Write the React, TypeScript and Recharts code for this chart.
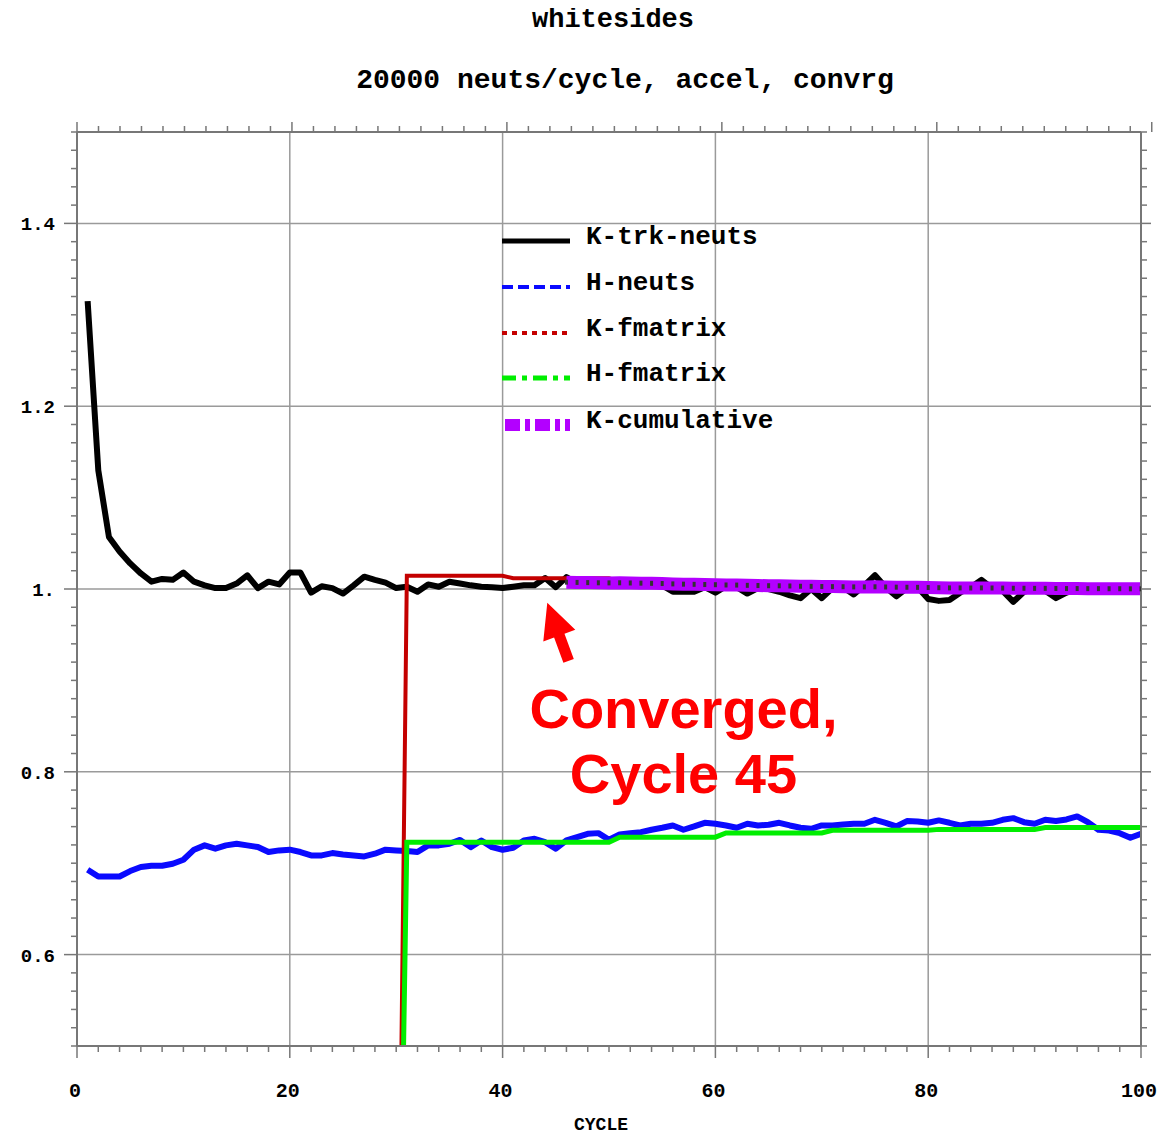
import React from 'react';
import { LineChart, Line, XAxis, YAxis, ReferenceLine, ReferenceDot, Legend } from 'recharts';

// ---------- data ----------
const cycles = Array.from({ length: 100 }, (_, i) => i + 1);

const kTrkNeuts = [
  1.315, 1.130, 1.057, 1.041, 1.028, 1.017, 1.008, 1.011, 1.010, 1.018,
  1.008, 1.004, 1.001, 1.001, 1.006, 1.015, 1.001, 1.008, 1.005, 1.018,
  1.018, 0.996, 1.003, 1.001, 0.995, 1.004, 1.0135, 1.010, 1.007, 1.001,
  1.0025, 0.997, 1.005, 1.0025, 1.008, 1.006, 1.004, 1.0025, 1.002, 1.001,
  1.0025, 1.004, 1.004, 1.012, 1.002, 1.013, 1.006, 1.007, 1.005, 1.006,
  1.008, 1.006, 1.007, 1.005, 1.004, 0.997, 0.997, 0.997, 1.002, 0.996,
  1.003, 1.002, 0.995, 1.001, 1.000, 0.997, 0.993, 0.990, 1.000, 0.990,
  1.001, 1.002, 0.994, 1.004, 1.015, 1.002, 0.992, 1.001, 1.002, 0.989,
  0.987, 0.988, 0.996, 1.002, 1.010, 1.001, 0.998, 0.986, 0.997, 1.000,
  0.998, 0.990, 0.996, 1.001, 1.000, 1.000, 0.999, 1.001, 1.000, 0.999,
];

const hNeuts = [
  0.6928, 0.6855, 0.6855, 0.6855, 0.6914, 0.6958, 0.6972, 0.6972, 0.6994, 0.7038,
  0.7148, 0.7195, 0.7159, 0.7195, 0.7213, 0.7195, 0.7177, 0.7122, 0.7140, 0.7148,
  0.7122, 0.7085, 0.7085, 0.7111, 0.7096, 0.7085, 0.7074, 0.7104, 0.7148, 0.7140,
  0.7133, 0.7122, 0.7195, 0.7195, 0.7213, 0.7255, 0.7176, 0.7249, 0.7176, 0.7147,
  0.7169, 0.7249, 0.7267, 0.7230, 0.7158, 0.7249, 0.7285, 0.7322, 0.7329, 0.7256,
  0.7314, 0.7329, 0.7340, 0.7366, 0.7388, 0.7413, 0.7366, 0.7402, 0.7442, 0.7431,
  0.7413, 0.7388, 0.7431, 0.7413, 0.7420, 0.7442, 0.7413, 0.7388, 0.7377, 0.7413,
  0.7413, 0.7424, 0.7431, 0.7431, 0.7475, 0.7442, 0.7402, 0.7461, 0.7457, 0.7442,
  0.7468, 0.7442, 0.7413, 0.7431, 0.7431, 0.7442, 0.7475, 0.7493, 0.7449, 0.7431,
  0.7475, 0.7461, 0.7479, 0.7512, 0.7449, 0.7366, 0.7358, 0.7329, 0.7278, 0.7322,
];

// fmatrix series start at cycle 30
const FM_START = 30;
const kFmatrix = [
  0,
  1.0145, 1.0145, 1.0145, 1.0145, 1.0145, 1.0145, 1.0145, 1.0145, 1.0145, 1.0145,
  1.0117, 1.0117, 1.0117, 1.0117, 1.0117, 1.0117, 1.0117, 1.0117, 1.0117, 1.0117,
  1.008, 1.008, 1.008, 1.008, 1.008, 1.008, 1.008, 1.008, 1.008, 1.008,
  1.006, 1.006, 1.006, 1.006, 1.006, 1.006, 1.006, 1.006, 1.006, 1.006,
  1.005, 1.005, 1.005, 1.005, 1.005, 1.005, 1.005, 1.005, 1.005, 1.005,
  1.003, 1.003, 1.003, 1.003, 1.003, 1.003, 1.003, 1.003, 1.003, 1.003,
  1.002, 1.002, 1.002, 1.002, 1.002, 1.002, 1.002, 1.002, 1.002, 1.002,
];
const hFmatrix = [
  0,
  0.723, 0.723, 0.723, 0.723, 0.723, 0.723, 0.723, 0.723, 0.723, 0.723,
  0.723, 0.723, 0.723, 0.723, 0.723, 0.723, 0.723, 0.723, 0.723, 0.723,
  0.7285, 0.7285, 0.7285, 0.7285, 0.7285, 0.7285, 0.7285, 0.7285, 0.7285, 0.7285,
  0.733, 0.733, 0.733, 0.733, 0.733, 0.733, 0.733, 0.733, 0.733, 0.733,
  0.736, 0.736, 0.736, 0.736, 0.736, 0.736, 0.736, 0.736, 0.736, 0.736,
  0.737, 0.737, 0.737, 0.737, 0.737, 0.737, 0.737, 0.737, 0.737, 0.737,
  0.739, 0.739, 0.739, 0.739, 0.739, 0.739, 0.739, 0.739, 0.739, 0.739,
];

// cumulative starts at cycle 46
const CUM_START = 46;
const kCumulative = [
  1.0075, 1.0072, 1.0070, 1.0068, 1.0067, 1.0068, 1.0066, 1.0064, 1.0062, 1.0060,
  1.0056, 1.0053, 1.0051, 1.0049, 1.0047, 1.0044, 1.0043, 1.0040, 1.0038, 1.0036,
  1.0035, 1.0033, 1.0030, 1.0029, 1.0027, 1.0026, 1.0025, 1.0023, 1.0023, 1.0024,
  1.0022, 1.0020, 1.0019, 1.0018, 1.0016, 1.0014, 1.0012, 1.0012, 1.0011, 1.0012,
  1.0011, 1.0010, 1.0008, 1.0008, 1.0007, 1.0007, 1.0006, 1.0005, 1.0005, 1.0004,
  1.0004, 1.0003, 1.0003, 1.0002, 1.0002,
];

const seriesNames = ['K-trk-neuts', 'H-neuts', 'K-fmatrix', 'H-fmatrix', 'K-cumulative'];

const xMajorTicks = [0, 20, 40, 60, 80, 100];
const xMajorLabels = ['0', '20', '40', '60', '80', '100'];
const yMajorTicks = [0.6, 0.8, 1.0, 1.2, 1.4];
const yMajorLabels = ['0.6', '0.8', '1.', '1.2', '1.4'];

const titleText = 'whitesides';
const subtitleText = '20000 neuts/cycle, accel, convrg';
const xAxisTitle = 'CYCLE';

const annotationLines = ['Converged,', 'Cycle 45'];
const annotationAt = { cycle: 57, value: 0.8477 };
const arrowTipAt = { cycle: 44.2, value: 0.985 };

// ---------- styles ----------
const MONO = "'Liberation Mono', 'DejaVu Sans Mono', monospace";
const SANS = "'Liberation Sans', Arial, sans-serif";
const AXIS_COLOR = '#777';
const GRID_COLOR = '#9a9a9a';
const seriesColors = ['#000000', '#0a0aff', '#c40000', '#00ee00', '#b300ff'];
const seriesWidths = [6, 6, 4, 5, 13];
const legendStroke = [
  { w: 5, dash: undefined },
  { w: 4, dash: '11 5' },
  { w: 4, dash: '5 5' },
  { w: 5, dash: '14 6 5 6' },
  { w: 12, dash: '15 5 5 5' },
];

// generated tick grids (minor every 2 cycles / 0.02)
const xTicks = Array.from({ length: 51 }, (_, i) => i * 2);
const yTicks = Array.from({ length: 51 }, (_, i) => +(0.5 + i * 0.02).toFixed(2));

const isXMajor = (v: number) => xMajorTicks.indexOf(v) >= 0;
const yMajorIndex = (v: number) => yMajorTicks.findIndex((m) => Math.abs(m - v) < 1e-6);

const BottomTick = (p: any) => {
  const v = p.payload.value;
  const major = isXMajor(v);
  return (
    <g>
      <line x1={p.x} y1={p.y} x2={p.x} y2={p.y + (major ? 12 : 6)} stroke={AXIS_COLOR} strokeWidth={1.5} />
      {major && (
        <text x={p.x - 2} y={p.y + 51} textAnchor="middle" fontFamily={MONO} fontWeight="bold" fontSize={20} fill="#000">
          {xMajorLabels[xMajorTicks.indexOf(v)]}
        </text>
      )}
    </g>
  );
};
const TopTick = (p: any) => {
  const major = isXMajor(p.payload.value);
  return <line x1={p.x} y1={p.y} x2={p.x} y2={p.y - (major ? 10 : 6)} stroke={AXIS_COLOR} strokeWidth={1.5} />;
};
const LeftTick = (p: any) => {
  const idx = yMajorIndex(p.payload.value);
  const major = idx >= 0;
  return (
    <g>
      <line x1={p.x - (major ? 13 : 6)} y1={p.y} x2={p.x} y2={p.y} stroke={AXIS_COLOR} strokeWidth={1.5} />
      {major && (
        <text x={p.x - 22} y={p.y + 7} textAnchor="end" fontFamily={MONO} fontWeight="bold" fontSize={19} fill="#000">
          {yMajorLabels[idx]}
        </text>
      )}
    </g>
  );
};
const RightTick = (p: any) => {
  const major = yMajorIndex(p.payload.value) >= 0;
  return <line x1={p.x} y1={p.y} x2={p.x + (major ? 10 : 6)} y2={p.y} stroke={AXIS_COLOR} strokeWidth={1.5} />;
};

const LegendBox = () => {
  const rowY = [21, 67, 113, 158, 205];
  return (
    <svg width={300} height={225} style={{ overflow: 'visible' }}>
      {seriesNames.map((name, i) => (
        <g key={name}>
          <line
            x1={i === 4 ? 3 : 0}
            y1={rowY[i]}
            x2={68}
            y2={rowY[i]}
            stroke={seriesColors[i]}
            strokeWidth={legendStroke[i].w}
            strokeDasharray={legendStroke[i].dash}
          />
          <text x={84} y={rowY[i] + 3} fontFamily={MONO} fontWeight="bold" fontSize={26} fill="#000">
            {name}
          </text>
        </g>
      ))}
    </svg>
  );
};

const ArrowShape = (p: any) => {
  if (p.cx == null || p.cy == null) return <g />;
  const pts = [
    [0, 0], [28, 27], [17.2, 31], [26.5, 56.3], [16.1, 60.1], [6.8, 34.8], [-4, 38.7],
  ];
  return <polygon points={pts.map(([dx, dy]) => `${p.cx + dx},${p.cy + dy}`).join(' ')} fill="#ff0000" />;
};

const AnnotationShape = (p: any) => {
  if (p.cx == null || p.cy == null) return <g />;
  return (
    <g>
      {annotationLines.map((t, i) => (
        <text key={t} x={p.cx} y={p.cy + i * 65} textAnchor="middle" fontFamily={SANS} fontWeight="bold" fontSize={56} fill="#ff0000">
          {t}
        </text>
      ))}
    </g>
  );
};

const CumDot = (p: any) => {
  if (p.cx == null || p.cy == null || p.value == null) return <g key={`cd${p.index}`} />;
  return <rect key={`cd${p.index}`} x={p.cx - 1.5} y={p.cy - 2.5} width={3} height={5} fill="#333" />;
};

export default function App() {
  const data = cycles.map((c, i) => ({
    cycle: c,
    ktrk: kTrkNeuts[i],
    hneuts: hNeuts[i],
    kfm: c >= FM_START ? kFmatrix[c - FM_START] : null,
    hfm: c >= FM_START ? hFmatrix[c - FM_START] : null,
    kcum: c >= CUM_START ? kCumulative[c - CUM_START] : null,
  }));

  const W = 1162;
  const H = 1128;

  return (
    <div style={{ position: 'relative', width: W, height: H }}>
      <LineChart width={W} height={H} data={data} margin={{ top: 114, right: 19, bottom: 30, left: 9 }} style={{ overflow: 'visible' }}>
        <XAxis
          dataKey="cycle"
          type="number"
          domain={[0, 100]}
          allowDataOverflow
          ticks={xTicks}
          interval={0}
          tickSize={0}
          tickMargin={0}
          tickLine={false}
          tick={(p: any) => <BottomTick {...p} />}
          height={60}
          axisLine={{ stroke: AXIS_COLOR, strokeWidth: 2 }}
          label={{
            value: xAxisTitle,
            content: (lp: any) => {
              const vb = lp.viewBox || {};
              return (
                <text x={vb.x + vb.width / 2 - 8} y={vb.y + 84} textAnchor="middle" fontFamily={MONO} fontWeight="bold" fontSize={18} fill="#000">
                  {xAxisTitle}
                </text>
              );
            },
          }}
        />
        <XAxis
          xAxisId="top"
          orientation="top"
          type="number"
          domain={[0, 100]}
          allowDataOverflow
          ticks={xTicks}
          interval={0}
          tickSize={0}
          tickMargin={0}
          tickLine={false}
          tick={(p: any) => <TopTick {...p} />}
          height={10}
          axisLine={{ stroke: AXIS_COLOR, strokeWidth: 2 }}
        />
        <YAxis
          type="number"
          domain={[0.5, 1.5]}
          allowDataOverflow
          ticks={yTicks}
          interval={0}
          tickSize={0}
          tickMargin={0}
          tickLine={false}
          tick={(p: any) => <LeftTick {...p} />}
          width={60}
          axisLine={{ stroke: AXIS_COLOR, strokeWidth: 2 }}
        />
        <YAxis
          yAxisId="right"
          orientation="right"
          type="number"
          domain={[0.5, 1.5]}
          allowDataOverflow
          ticks={yTicks}
          interval={0}
          tickSize={0}
          tickMargin={0}
          tickLine={false}
          tick={(p: any) => <RightTick {...p} />}
          width={10}
          axisLine={{ stroke: AXIS_COLOR, strokeWidth: 2 }}
        />
        {yMajorTicks.map((v) => (
          <ReferenceLine key={`gy${v}`} y={v} stroke={GRID_COLOR} strokeWidth={1.5} />
        ))}
        {xMajorTicks.slice(1, -1).map((v) => (
          <ReferenceLine key={`gx${v}`} x={v} stroke={GRID_COLOR} strokeWidth={1.5} />
        ))}
        <Legend
          layout="vertical"
          align="center"
          verticalAlign="middle"
          wrapperStyle={{ position: 'absolute', left: 494, top: 212, width: 300, height: 225 }}
          content={() => <LegendBox />}
        />
        <Line dataKey="ktrk" name={seriesNames[0]} type="linear" stroke={seriesColors[0]} strokeWidth={seriesWidths[0]} dot={false} isAnimationActive={false} strokeLinejoin="round" />
        <Line dataKey="hneuts" name={seriesNames[1]} type="linear" stroke={seriesColors[1]} strokeWidth={seriesWidths[1]} dot={false} isAnimationActive={false} strokeLinejoin="round" />
        <Line dataKey="kfm" name={seriesNames[2]} type="linear" stroke={seriesColors[2]} strokeWidth={seriesWidths[2]} dot={false} isAnimationActive={false} connectNulls={false} />
        <Line dataKey="hfm" name={seriesNames[3]} type="linear" stroke={seriesColors[3]} strokeWidth={seriesWidths[3]} dot={false} isAnimationActive={false} connectNulls={false} />
        <Line dataKey="kcum" name={seriesNames[4]} type="linear" stroke={seriesColors[4]} strokeWidth={seriesWidths[4]} dot={(p: any) => <CumDot {...p} />} isAnimationActive={false} />
        <ReferenceDot x={arrowTipAt.cycle} y={arrowTipAt.value} r={0} ifOverflow="visible" shape={(p: any) => <ArrowShape {...p} />} />
        <ReferenceDot x={annotationAt.cycle} y={annotationAt.value} r={0} ifOverflow="visible" shape={(p: any) => <AnnotationShape {...p} />} />
      </LineChart>
      <svg width={W} height={110} style={{ position: 'absolute', left: 0, top: 0, pointerEvents: 'none', overflow: 'visible' }}>
        <text x={605} y={19} textAnchor="middle" fontFamily={MONO} fontWeight="bold" fontSize={27} fill="#000">
          {titleText}
        </text>
        <text x={617} y={80} textAnchor="middle" fontFamily={MONO} fontWeight="bold" fontSize={28} fill="#000">
          {subtitleText}
        </text>
      </svg>
    </div>
  );
}
